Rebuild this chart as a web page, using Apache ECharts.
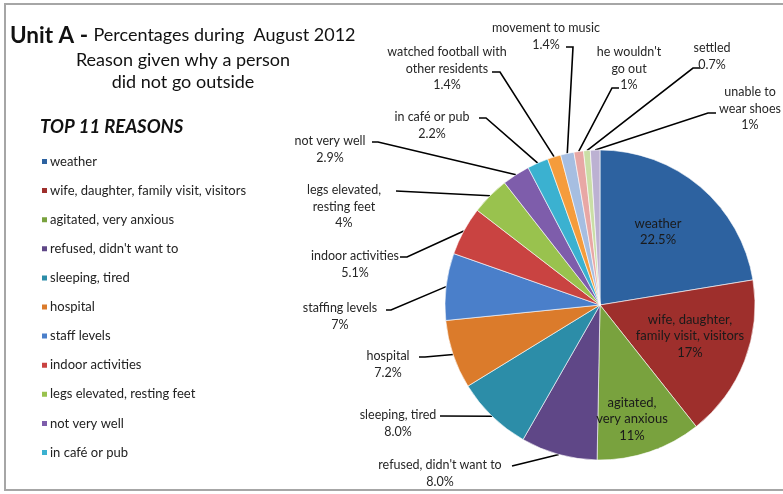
<!DOCTYPE html>
<html><head><meta charset="utf-8">
<script src="https://cdn.jsdelivr.net/npm/echarts@6/dist/echarts.min.js"></script>
<style>html,body{margin:0;padding:0;background:#fff}#c{width:783px;height:494px}</style>
</head><body><div id="c"></div>
<script>
const categories = ["weather","wife, daughter, family visit, visitors","agitated, very anxious","refused, didn't want to","sleeping, tired","hospital","staff levels","indoor activities","legs elevated, resting feet","not very well","in café or pub","watched football with other residents","movement to music","he wouldn't go out","settled","unable to wear shoes"];
const values = [22.5,17,11,8.0,8.0,7.2,7,5.1,4,2.9,2.2,1.4,1.4,1,0.7,1];
const valueLabels = ["22.5%","17%","11%","8.0%","8.0%","7.2%","7%","5.1%","4%","2.9%","2.2%","1.4%","1.4%","1%","0.7%","1%"];
const sliceLabels = ["weather","wife, daughter,\nfamily visit, visitors","agitated,\nvery anxious","refused, didn't want to","sleeping, tired","hospital","staffing levels","indoor activities","legs elevated,\nresting feet","not very well","in café or pub","watched football with\nother residents","movement to music","he wouldn't\ngo out","settled","unable to\nwear shoes"];
const legendItems = categories.slice(0, 11);
const colors = ["#2D62A0","#9E2F2C","#79A23E","#5F4787","#2C8DA8","#DB7B2B","#4A7FCA","#C94341","#99C24E","#7E5DAB","#3BB1D0","#F59C3C","#A6BEE1","#E8A7A5","#CADEA6","#BCB1D2"];
const insideCount = 3;

// label placement (layout only): [centerX, topY (or centerY for inside), leader-line tail points]
const labelPlacement = [
  [658, 232, null],
  [690, 336, null],
  [632, 419, null],
  [440, 457, [[512,466]]],
  [398, 407, [[440,416]]],
  [388, 348, [[425,357],[419,357]]],
  [340, 300, [[391,310],[386,310]]],
  [355, 248, [[407,257],[400,257]]],
  [344, 182, [[396,191]]],
  [330, 133, [[378,142],[372,142]]],
  [432, 109, [[486,118],[479,118]]],
  [447, 44, [[500,72],[492,72]]],
  [546, 20, [[573,47],[566,47]]],
  [629, 44, [[612,88],[619,88]]],
  [712, 40, [[693,68],[700,68]]],
  [750, 84, [[708,113],[716,113]]]
];

const data = categories.map((n, i) => ({
  name: n, value: values[i],
  itemStyle: { color: colors[i] },
  label: i < insideCount ? { position: 'inside', fontSize: 13, lineHeight: 16.5, color: '#1a1a1a' } : {}
}));

const chart = echarts.init(document.getElementById('c'));
chart.setOption({
  animation: false,
  textStyle: { fontFamily: 'Lato' },
  graphic: [
    { type: 'rect', shape: { x: 5, y: 4, width: 800, height: 486 }, style: { fill: 'none', stroke: '#a6a6a6', lineWidth: 2 } },
    { type: 'text', left: 10, top: 24, style: { rich: { a: { fontSize: 22.5, fontWeight: 'bold', fontFamily: 'Lato', fill: '#111' }, b: { fontSize: 18, fontFamily: 'Lato', fill: '#111' } }, text: '{a|Unit A - }{b|Percentages during  August 2012}' } },
    { type: 'text', x: 183, y: 49, style: { text: 'Reason given why a person\ndid not go outside', fontSize: 18, lineHeight: 22, fontFamily: 'Lato', fill: '#111', align: 'center' } },
    { type: 'text', left: 40, top: 118, style: { text: 'TOP 11 REASONS', fontSize: 18.5, fontWeight: 'bold', fontStyle: 'italic', fontFamily: 'Lato', fill: '#111' } }
  ],
  legend: {
    data: legendItems, orient: 'vertical', left: 35, top: 150,
    itemWidth: 7, itemHeight: 7, itemGap: 16.1, icon: 'rect',
    textStyle: { fontSize: 13, color: '#222', fontFamily: 'Lato', padding: [0,0,0,-3] },
    selectedMode: false
  },
  series: [{
    type: 'pie', center: [600, 305], radius: 155, startAngle: 90, clockwise: true,
    avoidLabelOverlap: false,
    data: data,
    itemStyle: { borderColor: '#fff', borderWidth: 0.6 },
    label: {
      formatter: p => sliceLabels[p.dataIndex] + '\n' + valueLabels[p.dataIndex],
      fontSize: 12.5, lineHeight: 16.5, color: '#262626', fontFamily: 'Lato'
    },
    labelLine: { length: 20, length2: 10, lineStyle: { color: '#000', width: 1.6 } },
    labelLayout: function (p) {
      const lp = labelPlacement[p.dataIndex];
      if (!lp[2]) {
        return { x: lp[0], y: lp[1], align: 'center', verticalAlign: 'middle', hideOverlap: false };
      }
      const start = p.labelLinePoints ? p.labelLinePoints[0] : null;
      const out = { x: lp[0], y: lp[1], align: 'center', verticalAlign: 'top', hideOverlap: false };
      if (start) out.labelLinePoints = [start].concat(lp[2]);
      return out;
    }
  }]
});
</script></body></html>
